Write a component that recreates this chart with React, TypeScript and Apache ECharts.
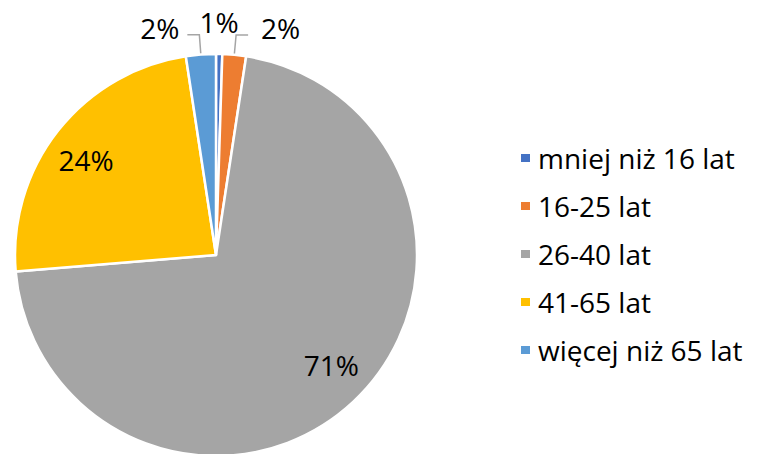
import React, { useEffect, useRef } from "react";
import * as echarts from "echarts";

const categories = ["mniej niż 16 lat", "16-25 lat", "26-40 lat", "41-65 lat", "więcej niż 65 lat"];
const values = [0.5, 1.9, 71.3, 23.9, 2.4];
const colors = ["#4472C4", "#ED7D31", "#A5A5A5", "#FFC000", "#5B9BD5"];
const insideLabelled = [false, false, true, true, false];

const FONT = "Open Sans";

export default function App() {
  const ref = useRef<HTMLDivElement>(null);
  useEffect(() => {
    if (!ref.current) return;
    const chart = echarts.init(ref.current, null, { renderer: "svg" });
    const fmt = (p: any) => Math.round(p.value) + "%";
    const mainData = categories.map((name, i) => ({
      name,
      value: values[i],
      itemStyle: { color: colors[i] },
      label: insideLabelled[i] ? { show: false } : { show: true, position: "outside" },
      labelLine: { show: !insideLabelled[i] && i !== 0 },
    }));
    const overlayData = categories.map((name, i) => ({
      name,
      value: values[i],
      label: { show: insideLabelled[i] },
    }));
    chart.setOption({
      animation: false,
      legend: {
        orient: "vertical",
        left: 514,
        top: 139,
        icon: "rect",
        itemWidth: 11,
        itemHeight: 10,
        itemGap: 20,
        data: categories,
        textStyle: { fontFamily: FONT, fontSize: 28, color: "#000", padding: [0, 0, 0, 2] },
      },
      series: [
        {
          type: "pie",
          center: [216, 255],
          radius: [0, 201],
          startAngle: 90,
          clockwise: true,
          avoidLabelOverlap: false,
          itemStyle: { borderColor: "#fff", borderWidth: 2.5 },
          label: {
            formatter: fmt,
            fontFamily: FONT,
            fontSize: 28,
            color: "#000",
          },
          labelLine: {
            length: 20,
            length2: 12,
            lineStyle: { color: "#A5A5A5", width: 1.5 },
          },
          labelLayout: (p: any) => {
            if (p.dataIndex === 0) return { dx: -37, dy: -12 };
            if (p.dataIndex === 1) return { dx: 8, dy: -7 };
            if (p.dataIndex === 4) return { dx: -3, dy: -7 };
            return {};
          },
          data: mainData,
        },
        {
          type: "pie",
          silent: true,
          center: [216, 255],
          radius: [120, 200],
          startAngle: 90,
          clockwise: true,
          itemStyle: { color: "transparent" },
          label: {
            position: "inside",
            formatter: fmt,
            fontFamily: FONT,
            fontSize: 28,
            color: "#000",
          },
          labelLine: { show: false },
          labelLayout: (p: any) => {
            if (p.dataIndex === 2) return { dx: 4, dy: -9 };
            if (p.dataIndex === 3) return { dx: -2, dy: 6 };
            return {};
          },
          data: overlayData,
        },
      ],
    });
    return () => chart.dispose();
  }, []);
  return (
    <div
      ref={ref}
      style={{ position: "absolute", left: 0, top: 0, width: 773, height: 454 }}
    />
  );
}
